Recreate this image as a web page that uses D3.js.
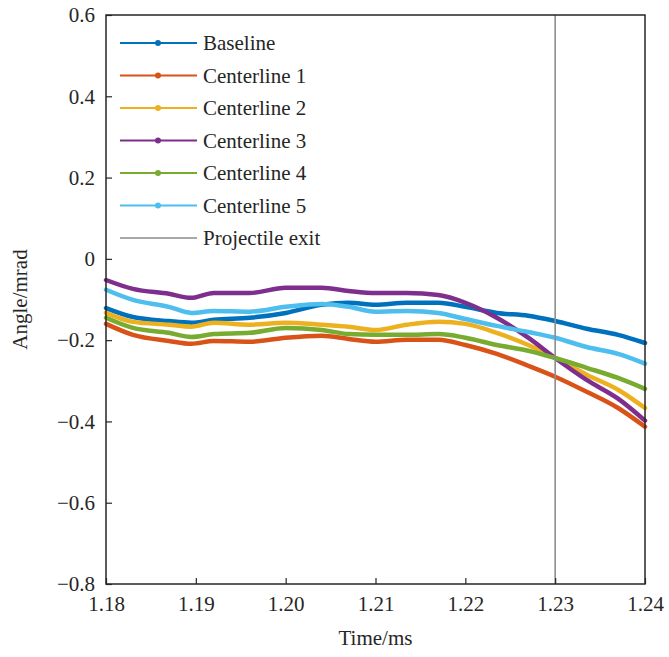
<!DOCTYPE html>
<html><head><meta charset="utf-8">
<script src="https://cdn.jsdelivr.net/npm/d3@7"></script>
<style>body{margin:0;background:#fff}</style>
</head><body>
<svg id="c" width="669" height="657"></svg>
<script>
const times = [1.180,1.183,1.187,1.1895,1.192,1.196,1.200,1.204,1.207,1.210,1.2135,1.217,1.220,1.2235,1.227,1.230,1.2335,1.237,1.240];
const baseline = [-0.121,-0.143,-0.153,-0.157,-0.150,-0.145,-0.133,-0.113,-0.108,-0.113,-0.108,-0.108,-0.118,-0.133,-0.140,-0.153,-0.172,-0.187,-0.207];
const centerline1 = [-0.160,-0.187,-0.202,-0.209,-0.202,-0.204,-0.194,-0.189,-0.197,-0.204,-0.199,-0.199,-0.212,-0.234,-0.263,-0.290,-0.327,-0.367,-0.413];
const centerline2 = [-0.133,-0.155,-0.162,-0.167,-0.157,-0.162,-0.157,-0.162,-0.167,-0.175,-0.162,-0.155,-0.160,-0.182,-0.212,-0.244,-0.285,-0.322,-0.367];
const centerline3 = [-0.052,-0.074,-0.086,-0.096,-0.084,-0.084,-0.071,-0.071,-0.079,-0.084,-0.084,-0.089,-0.108,-0.145,-0.194,-0.244,-0.298,-0.344,-0.398];
const centerline4 = [-0.145,-0.170,-0.182,-0.192,-0.185,-0.182,-0.170,-0.175,-0.185,-0.187,-0.187,-0.185,-0.194,-0.212,-0.226,-0.244,-0.268,-0.293,-0.320];
const centerline5 = [-0.076,-0.101,-0.118,-0.133,-0.128,-0.130,-0.118,-0.111,-0.118,-0.130,-0.128,-0.133,-0.148,-0.165,-0.180,-0.194,-0.217,-0.234,-0.258];
const seriesNames = ["Baseline","Centerline 1","Centerline 2","Centerline 3","Centerline 4","Centerline 5"];
const seriesColors = ["#0072BD","#D95319","#EDB120","#7E2F8E","#77AC30","#4DBEEE"];
const exitTime = 1.23;
const exitLabel = "Projectile exit";
const xTicks = [1.18,1.19,1.20,1.21,1.22,1.23,1.24];
const yTicks = [-0.8,-0.6,-0.4,-0.2,0,0.2,0.4,0.6];
const xLabel = "Time/ms", yLabel = "Angle/mrad";

const allSeries = [baseline,centerline1,centerline2,centerline3,centerline4,centerline5];
const L=106,R=645,T=15,B=584;
const svg=d3.select("#c");
const font="'Liberation Serif','Times New Roman',serif";
const x=d3.scaleLinear().domain([1.18,1.24]).range([L,R]);
const y=d3.scaleLinear().domain([-0.8,0.6]).range([B,T]);

const line=d3.line().x((d,i)=>x(times[i])).y(d=>y(d)).curve(d3.curveMonotoneX);
allSeries.forEach((s,k)=>{
  svg.append("path").attr("d",line(s)).attr("fill","none")
    .attr("stroke",seriesColors[k]).attr("stroke-width",4.5).attr("stroke-linejoin","round").attr("stroke-linecap","round");
});
svg.append("line").attr("x1",x(exitTime)).attr("x2",x(exitTime)).attr("y1",T).attr("y2",B)
  .attr("stroke","#8c8c8c").attr("stroke-width",1.6);

// axes
const xAx=svg.append("g").attr("transform",`translate(0,${B})`)
  .call(d3.axisBottom(x).tickValues(xTicks).tickFormat(d3.format(".2f")).tickSizeInner(-6).tickSizeOuter(0).tickPadding(12));
const yAx=svg.append("g").attr("transform",`translate(${L},0)`)
  .call(d3.axisLeft(y).tickValues(yTicks).tickFormat(d=>d===0?"0":d3.format(".1f")(d).replace("-","\u2212")).tickSizeInner(-6).tickSizeOuter(0).tickPadding(11));
[xAx,yAx].forEach(g=>{
  g.attr("font-family",font);
  g.select(".domain").remove();
  g.selectAll("line").attr("stroke","#262626").attr("stroke-width",1.2);
  g.selectAll("text").attr("font-family",font).attr("font-size",21).attr("fill","#262626");
});
svg.append("rect").attr("x",L).attr("y",T).attr("width",R-L).attr("height",B-T)
  .attr("fill","none").attr("stroke","#262626").attr("stroke-width",1.5);

svg.append("text").attr("x",(L+R)/2).attr("y",645).attr("text-anchor","middle")
  .attr("font-family",font).attr("font-size",21).attr("fill","#262626").text(xLabel);
svg.append("text").attr("transform",`translate(27,${(T+B)/2}) rotate(-90)`).attr("text-anchor","middle")
  .attr("font-family",font).attr("font-size",21).attr("fill","#262626").text(yLabel);

// legend
const names=seriesNames.concat([exitLabel]);
const cols=seriesColors.concat(["#8c8c8c"]);
names.forEach((n,i)=>{
  const yy=43+i*32.5;
  svg.append("line").attr("x1",120).attr("x2",197).attr("y1",yy).attr("y2",yy)
    .attr("stroke",cols[i]).attr("stroke-width",i<6?2.2:1.6);
  if(i<6) svg.append("circle").attr("cx",158).attr("cy",yy).attr("r",3).attr("fill",cols[i]);
  svg.append("text").attr("x",203).attr("y",yy+7).attr("font-family",font).attr("font-size",21)
    .attr("fill","#262626").text(n);
});
</script>
</body></html>
